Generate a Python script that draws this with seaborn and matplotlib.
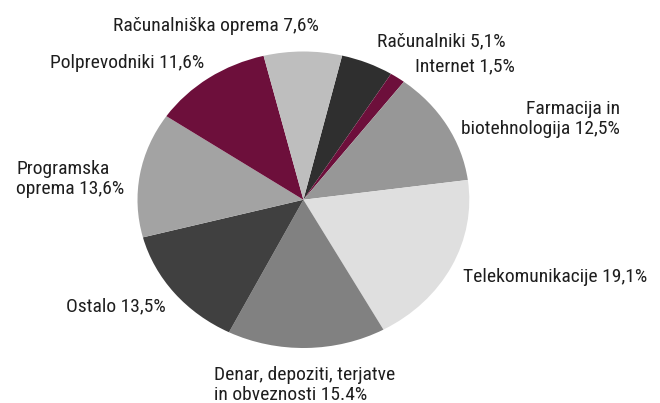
import matplotlib
matplotlib.use("Agg")
import matplotlib.pyplot as plt
import seaborn as sns

# Sector shares, listed clockwise from the top
sectors = [
    "Računalniki", "Internet", "Farmacija in biotehnologija", "Telekomunikacije",
    "Denar, depoziti, terjatve in obveznosti", "Ostalo", "Programska oprema",
    "Polprevodniki", "Računalniška oprema",
]
shares = [5.1, 1.5, 12.5, 19.1, 15.4, 13.5, 13.6, 11.6, 7.6]
colors = ["#2f2f2f", "#6d0f3b", "#979797", "#dfdfdf", "#818181",
          "#404040", "#a3a3a3", "#6d0f3b", "#bebebe"]
labels = [
    "Računalniki 5,1%", "Internet 1,5%", "Farmacija in\nbiotehnologija 12,5%",
    "Telekomunikacije 19,1%", "Denar, depoziti, terjatve\nin obveznosti 15.4%",
    "Ostalo 13,5%", "Programska\noprema 13,6%", "Polprevodniki 11,6%",
    "Računalniška oprema 7,6%",
]

sns.set_theme(style="white")
plt.rcParams["font.family"] = ["Roboto Condensed", "Archivo Narrow", "DejaVu Sans"]

W, H = 660, 403
fig = plt.figure(figsize=(W / 100, H / 100), dpi=100)
fig.patch.set_facecolor("white")

# Pie sits in a slightly wide box, giving the oval shape
left, right, top, bottom = 137.5, 469.3, 51.5, 348.0
ax = fig.add_axes([left / W, 1 - bottom / H, (right - left) / W, (bottom - top) / H])
ax.pie(shares, colors=colors, startangle=76.5, counterclock=False, radius=1,
       wedgeprops=dict(linewidth=0))
ax.set_aspect("auto")
ax.set_xlim(-1, 1)
ax.set_ylim(-1, 1)
ax.axis("off")

# Label anchors (pixel x, last-line baseline y, horizontal alignment)
anchors = [
    (377.3, 46.7, "left"),
    (415.0, 71.7, "left"),
    (620.0, 134.3, "right"),
    (463.3, 282.3, "left"),
    (214.0, 400.5, "left"),
    (66.0, 311.7, "left"),
    (16.0, 194.5, "left"),
    (50.0, 68.3, "left"),
    (113.3, 31.0, "left"),
]
for text, (x, y, ha) in zip(labels, anchors):
    fig.text(x / W, 1 - y / H, text, ha=ha, va="baseline", fontsize=14,
             color="#1e1e1e", linespacing=1.18, multialignment=ha)

fig.savefig("out.png", dpi=100, facecolor="white")
